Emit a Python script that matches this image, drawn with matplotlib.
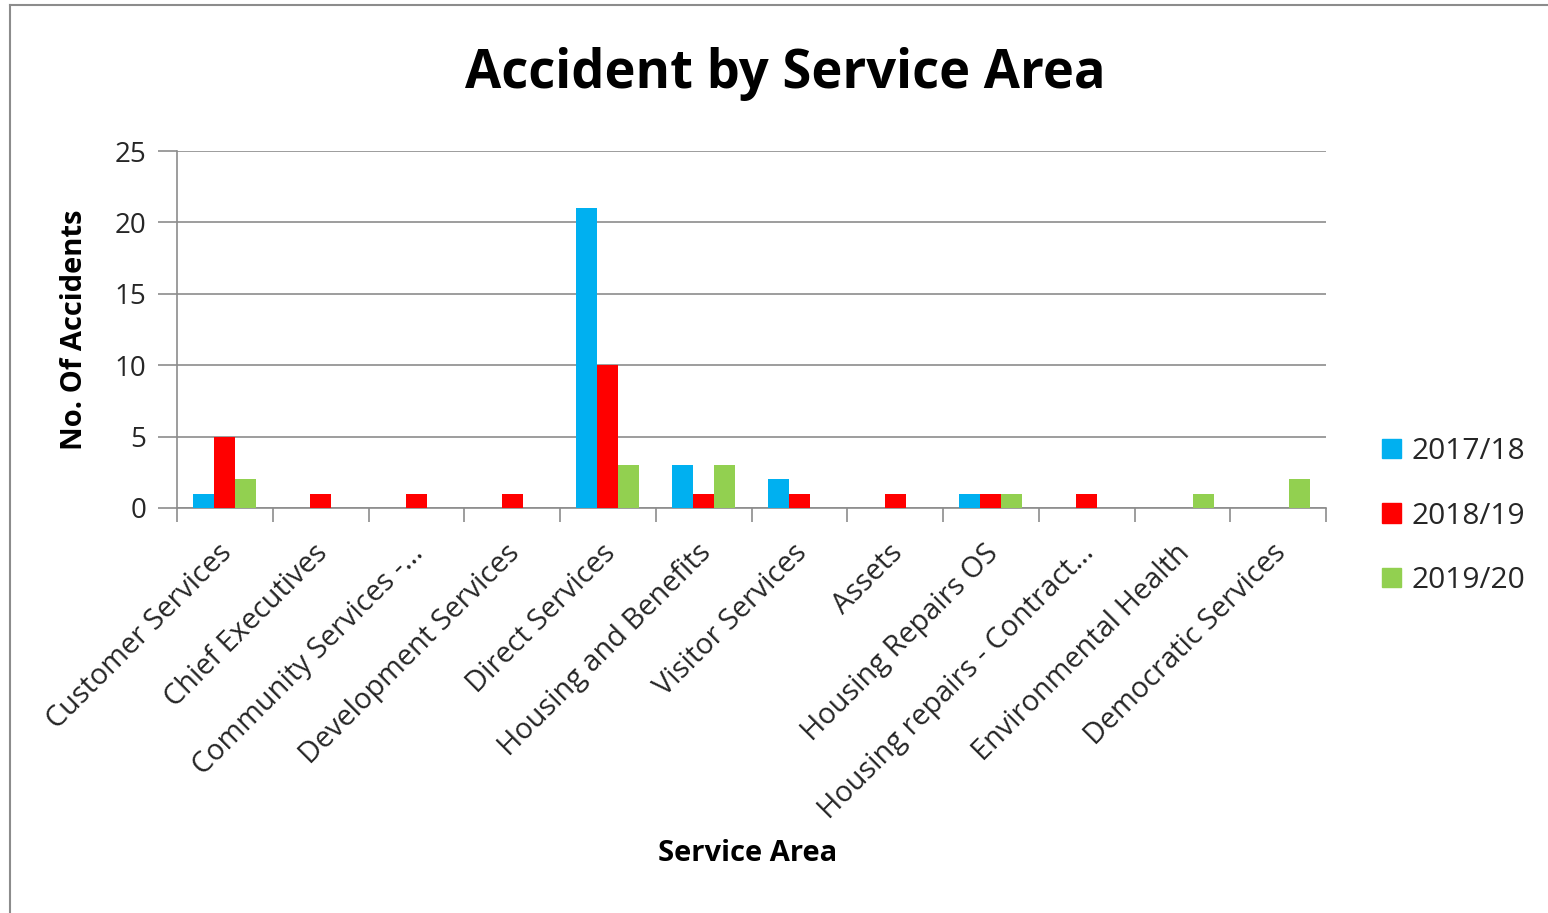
import matplotlib
matplotlib.use("Agg")
import matplotlib.pyplot as plt
import numpy as np
from matplotlib.lines import Line2D

categories = ["Customer Services", "Chief Executives", "Community Services -...",
              "Development Services", "Direct Services", "Housing and Benefits",
              "Visitor Services", "Assets", "Housing Repairs OS",
              "Housing repairs - Contract...", "Environmental Health", "Democratic Services"]
series_names = ["2017/18", "2018/19", "2019/20"]
v2017 = [1, 0, 0, 0, 21, 3, 2, 0, 1, 0, 0, 0]
v2018 = [5, 1, 1, 1, 10, 1, 1, 1, 1, 1, 0, 0]
v2019 = [2, 0, 0, 0, 3, 3, 0, 0, 1, 0, 1, 2]
colors = ["#00B0F0", "#FF0000", "#92D050"]
yticks = [0, 5, 10, 15, 20, 25]

plt.rcParams['font.family'] = ['Open Sans', 'DejaVu Sans']

W, H = 1548, 913
fig = plt.figure(figsize=(W/100, H/100), dpi=100)
ax = fig.add_axes([177/W, 1-508/H, (1326-177)/W, (508-151)/H])

n = len(categories)
x = np.arange(n)
bw = 0.219
for i, (vals, c, name) in enumerate(zip([v2017, v2018, v2019], colors, series_names)):
    ax.bar(x + (i-1)*bw, vals, width=bw, color=c, label=name, zorder=3)

ax.set_xlim(-0.5, n-0.5)
ax.set_ylim(0, 25)
ax.set_yticks(yticks)
ax.set_yticklabels([str(t) for t in yticks], fontsize=20, color="#262626")
ax.yaxis.grid(True, color="#8c8c8c", linewidth=1.2, zorder=0)
ax.tick_params(axis='y', length=14, width=1.2, color="#8c8c8c", pad=8, direction='out')
for s in ["top", "right"]:
    ax.spines[s].set_visible(False)
for s in ["left", "bottom"]:
    ax.spines[s].set_color("#8c8c8c")
    ax.spines[s].set_linewidth(1.2)

ax.set_xticks(np.arange(-0.5, n, 1.0))
ax.set_xticklabels([])
ax.tick_params(axis='x', length=10, width=1.2, color="#8c8c8c", direction='out')
ax.set_xticks(x, minor=True)
ax.tick_params(axis='x', which='minor', length=0)
ax.set_xticklabels(categories, minor=True, rotation=45, ha='right', va='top',
                   rotation_mode='anchor', fontsize=20.8, color="#262626")
for lab in ax.get_xticklabels(minor=True):
    lab.set_transform(lab.get_transform() + matplotlib.transforms.ScaledTranslation(-7/100, -26/100, fig.dpi_scale_trans))

fig.text(785/W, 1-74/H, "Accident by Service Area", ha='center', va='center',
         fontsize=37.8, fontweight='bold', color='black')
fig.text(75/W, 1-330/H, "No. Of Accidents", ha='center', va='center', rotation=90,
         fontsize=21, fontweight='bold', color='black')
fig.text(748/W, 1-853/H, "Service Area", ha='center', va='center',
         fontsize=21, fontweight='bold', color='black')

handles = [plt.Rectangle((0, 0), 1, 1, color=c) for c in colors]
leg = fig.legend(handles, series_names, loc='center left', bbox_to_anchor=(1382/W, 1-516/H),
                 frameon=False, fontsize=21.5, handlelength=0.62, handleheight=0.62,
                 handletextpad=0.36, labelspacing=1.18, labelcolor="#262626",
                 borderpad=0, borderaxespad=0)

# outer border
fig.add_artist(Line2D([10/W, 10/W], [0, 1-5/H], transform=fig.transFigure, color="#8c8c8c", linewidth=1.5))
fig.add_artist(Line2D([10/W, 1], [1-5/H, 1-5/H], transform=fig.transFigure, color="#8c8c8c", linewidth=1.5))

fig.savefig("out.png", dpi=100, facecolor='white')
